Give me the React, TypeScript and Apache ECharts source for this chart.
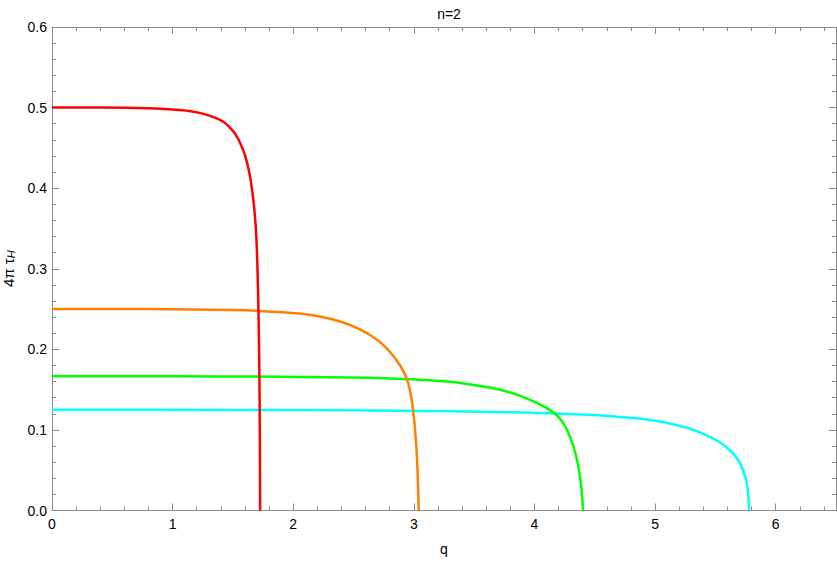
import React, { useEffect, useRef } from "react";
import * as echarts from "echarts";

// Red curve
const qRed = [0, 0.4, 0.7, 0.9, 1.05, 1.15, 1.25, 1.35, 1.42, 1.47, 1.52, 1.56, 1.6, 1.635, 1.66, 1.68, 1.695, 1.708, 1.717, 1.721, 1.724, 1.726];
const tauRed = [0.5, 0.5, 0.4995, 0.4985, 0.497, 0.4955, 0.4925, 0.4875, 0.4825, 0.476, 0.467, 0.456, 0.441, 0.42, 0.397, 0.37, 0.337, 0.275, 0.2, 0.14, 0.07, 0];

// Orange curve
const qOrange = [0, 0.8, 1.5, 1.72, 2.05, 2.22, 2.39, 2.55, 2.7, 2.81, 2.89, 2.945, 2.98, 3.008, 3.027, 3.035, 3.04];
const tauOrange = [0.25, 0.2499, 0.2487, 0.2477, 0.2445, 0.2408, 0.2345, 0.225, 0.2113, 0.1955, 0.179, 0.162, 0.139, 0.104, 0.062, 0.03, 0];

// Green curve
const qGreen = [0, 1.0, 1.7, 2.47, 2.97, 3.3, 3.46, 3.63, 3.8, 3.96, 4.1, 4.2, 4.265, 4.32, 4.362, 4.39, 4.403];
const tauGreen = [0.1667, 0.1665, 0.1662, 0.165, 0.163, 0.1598, 0.1567, 0.1526, 0.1464, 0.1377, 0.1273, 0.116, 0.1017, 0.081, 0.056, 0.027, 0];

// Cyan curve
const qCyan = [0, 1.5, 2.47, 3.3, 3.8, 4.18, 4.54, 4.71, 4.93, 5.15, 5.34, 5.51, 5.62, 5.69, 5.735, 5.766, 5.78];
const tauCyan = [0.125, 0.1248, 0.1244, 0.1232, 0.122, 0.1203, 0.1182, 0.1161, 0.1129, 0.1071, 0.0988, 0.0872, 0.0748, 0.0624, 0.048, 0.029, 0];

const xTicks = [0, 1, 2, 3, 4, 5, 6];
const yTicks = [0.0, 0.1, 0.2, 0.3, 0.4, 0.5, 0.6];

const FONT = "'Liberation Sans', Arial, sans-serif";
const FRAME = "#8c8c8c";

const zip = (xs: number[], ys: number[]) => xs.map((x, i) => [x, ys[i]]);

export default function App() {
  const ref = useRef<HTMLDivElement>(null);
  useEffect(() => {
    if (!ref.current) return;
    const chart = echarts.init(ref.current, null, { renderer: "svg" });
    const common = {
      axisLine: { show: true, onZero: false, lineStyle: { color: FRAME, width: 1 } },
      axisTick: { show: true, inside: true, length: 7, lineStyle: { color: FRAME } },
      minorTick: { show: true, splitNumber: 5, length: 4, lineStyle: { color: FRAME } },
      splitLine: { show: false },
      minorSplitLine: { show: false },
    };
    const line = (name: string, data: number[][], color: string) => ({
      type: "line",
      name,
      data,
      showSymbol: false,
      symbol: "none",
      smooth: 0.3,
      lineStyle: { color, width: 2.5 },
      xAxisIndex: 0,
      yAxisIndex: 0,
    });
    chart.setOption({
      animation: false,
      backgroundColor: "#ffffff",
      title: {
        text: "n=2",
        left: 444,
        top: 2,
        textAlign: "center",
        textStyle: { fontFamily: FONT, fontSize: 14, fontWeight: "normal", color: "#000" },
      },
      grid: { left: 52, top: 27, width: 784, height: 483.5, containLabel: false, outerBoundsMode: "none" },
      xAxis: [
        {
          type: "value",
          position: "bottom",
          min: 0,
          max: 6.5,
          interval: 1,
          ...common,
          axisLabel: {
            show: true,
            margin: 6,
            color: "#000",
            fontFamily: FONT,
            fontSize: 14,
            showMaxLabel: false,
            formatter: (v: number) => (xTicks.includes(v) ? String(v) : ""),
          },
          name: "q",
          nameLocation: "middle",
          nameGap: 31,
          nameTextStyle: { color: "#000", fontFamily: FONT, fontSize: 14 },
        },
        {
          type: "value",
          position: "top",
          min: 0,
          max: 6.5,
          interval: 1,
          ...common,
          axisLabel: { show: false },
        },
      ],
      yAxis: [
        {
          type: "value",
          position: "left",
          min: 0,
          max: 0.6,
          interval: 0.1,
          ...common,
          axisLabel: {
            show: true,
            margin: 5,
            color: "#000",
            fontFamily: FONT,
            fontSize: 14,
            formatter: (v: number) => {
              const t = yTicks.find((y) => Math.abs(y - v) < 1e-9);
              return t === undefined ? "" : t.toFixed(1);
            },
          },
          name: "{a|4π τ}{b|H}",
          nameLocation: "middle",
          nameRotate: 90,
          nameGap: 34,
          nameTextStyle: {
            color: "#000",
            fontFamily: FONT,
            fontSize: 15,
            rich: {
              a: { fontFamily: FONT, fontSize: 15, color: "#000" },
              b: { fontFamily: FONT, fontSize: 11, fontStyle: "italic", color: "#000", padding: [6, 0, 0, 0] },
            },
          },
        },
        {
          type: "value",
          position: "right",
          min: 0,
          max: 0.6,
          interval: 0.1,
          ...common,
          axisLabel: { show: false },
        },
      ],
      series: [
        line("cyan", zip(qCyan, tauCyan), "#00ffff"),
        line("green", zip(qGreen, tauGreen), "#00ff00"),
        line("orange", zip(qOrange, tauOrange), "#ff8000"),
        line("red", zip(qRed, tauRed), "#ff0000"),
      ],
    });
    return () => chart.dispose();
  }, []);
  return (
    <div
      ref={ref}
      style={{ position: "fixed", left: 0, top: 0, width: 837, height: 563, background: "#fff" }}
    />
  );
}
